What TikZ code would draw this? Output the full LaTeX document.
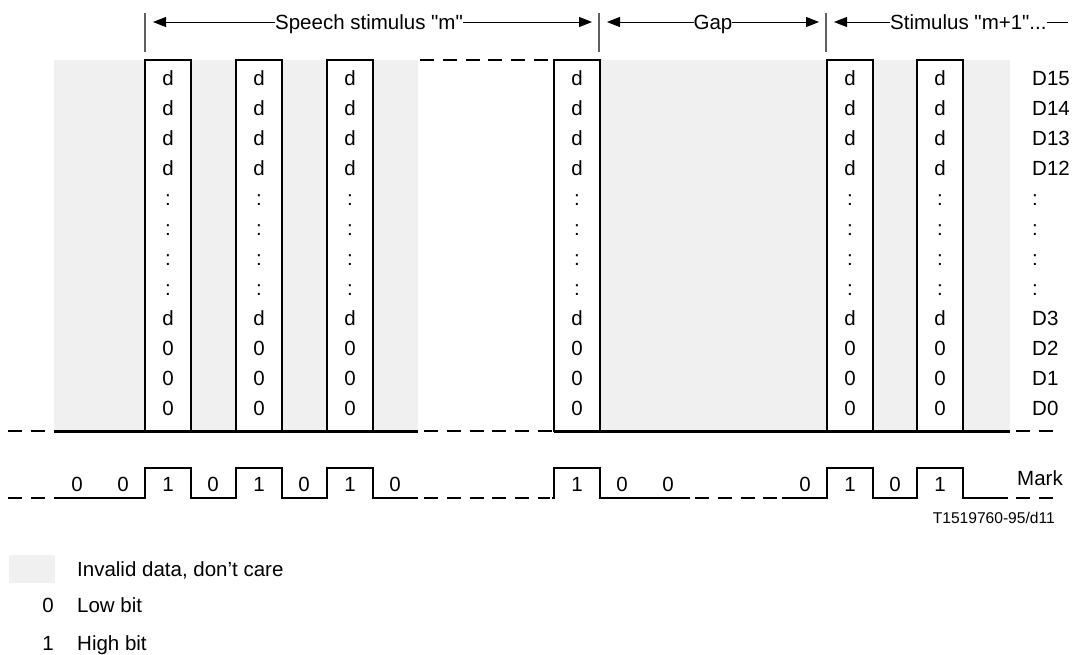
\documentclass[tikz,border=0pt]{standalone}
\usepackage{fontspec}
\setmainfont{Liberation Sans}[Ligatures=TeXOff]
\usetikzlibrary{arrows.meta}
\definecolor{invalid}{HTML}{F0F0F0}
\definecolor{tickgray}{HTML}{606060}
\begin{document}
\begin{tikzpicture}[x=1pt,y=-1pt,
  every node/.style={inner sep=0pt, font=\fontsize{20.5}{24}\selectfont},
  boxline/.style={draw=black, line width=2pt, fill=white},
  baseline3/.style={line width=3pt},
  dashline/.style={line width=1.6pt, dash pattern=on 14pt off 8.8pt},
  wave/.style={line width=2.5pt, line join=miter},
  tickline/.style={draw=tickgray, line width=1.2pt},
  arr/.style={line width=1pt, {Triangle[length=13pt,width=10pt]}-{Triangle[length=13pt,width=10pt]}},
  arrl/.style={line width=1pt, {Triangle[length=13pt,width=10pt]}-},
  lbl/.style={fill=white, anchor=base}
]
\useasboundingbox (0,0) rectangle (1081,654);

% invalid-data background
\fill[invalid] (54,60) rectangle (418,431);
\fill[invalid] (600,60) rectangle (1010,431);

% data boxes
\foreach \a/\b in {145/191, 236/282, 327/373, 554/600, 827/873, 917/963} {
  \draw[boxline] (\a,60) rectangle (\b,431);
}

% box contents
\foreach \c in {168,259,350,577,850,940} {
  \foreach \t [count=\i from 0] in {d,d,d,d,:,:,:,:,d,0,0,0} {
    \node[anchor=base] (c\c-\i) at (\c,85.3+30*\i) {\t};
  }
}

% bit labels on right
\foreach \t [count=\i from 0] in {D15,D14,D13,D12,:,:,:,:,D3,D2,D1,D0} {
  \node[anchor=base west] (bit\i) at (1032,85.3+30*\i) {\t};
}

% bottom lines
\draw[baseline3] (54,431) -- (418,431);
\draw[baseline3] (554,431) -- (1010,431);
\draw[dashline] (8,431) -- (47,431);
\draw[dashline] (424,431) -- (552,431);
\draw[dashline] (1016,431) -- (1055,431);
\draw[dashline] (420,60) -- (550,60);

% mark waveform
\draw[wave] (54,498) -- (145,498) -- (145,468) -- (191,468) -- (191,498) -- (236,498)
  -- (236,468) -- (282,468) -- (282,498) -- (327,498) -- (327,468) -- (373,468)
  -- (373,498) -- (418,498);
\draw[wave] (552,498) -- (554,498) -- (554,468) -- (600,468) -- (600,498) -- (690,498);
\draw[wave] (782,498) -- (827,498) -- (827,468) -- (873,468) -- (873,498) -- (917,498)
  -- (917,468) -- (963,468) -- (963,498) -- (1008,498);
\draw[dashline] (8,498) -- (47,498);
\draw[dashline] (424,498) -- (550,498);
\draw[dashline] (695,498) -- (778,498);
\draw[dashline] (1016,498) -- (1055,498);

% mark labels
\foreach \x/\t in {77/0,123/0,168/1,213/0,259/1,304/0,350/1,395/0,577/1,622/0,668/0,805/0,850/1,895/0,940/1} {
  \node[anchor=base] (m\x) at (\x,491.3) {\t};
}
\node[anchor=base west] (mark) at (1017,485.3) {Mark};
\node[anchor=base east, font=\fontsize{15.6}{18}\selectfont] (ref) at (1055,523.6) {T1519760-95/d11};

% top ticks and arrows
\coordinate (k1t) at (145,13); \coordinate (k1b) at (145,52);
\coordinate (k2t) at (599,13); \coordinate (k2b) at (599,52);
\coordinate (k3t) at (826,13); \coordinate (k3b) at (826,52);
\draw[tickline] (k1t) -- (k1b);
\draw[tickline] (k2t) -- (k2b);
\draw[tickline] (k3t) -- (k3b);

\coordinate (a1l) at (153,22); \coordinate (a1r) at (592,22);
\coordinate (a2l) at (607,22); \coordinate (a2r) at (819,22);
\coordinate (a3l) at (834,22); \coordinate (a3r) at (1068,22);
\draw[arr] (a1l) -- (a1r);
\draw[arr] (a2l) -- (a2r);
\draw[arrl] (a3l) -- (a3r);
\node[lbl] (speech) at (369,29.3) {Speech stimulus "m"};
\node[lbl] (gap) at (713,29.3) {Gap};
\node[lbl, anchor=base west] (next) at (890,29.3) {Stimulus "m+1"...};

% legend
\fill[invalid] (9,555) rectangle (55,583);
\node[anchor=base west] (leg1) at (77,576) {Invalid data, don’t care};
\node[anchor=base] (k0) at (48,612) {0};
\node[anchor=base west] (leg2) at (77,612) {Low bit};
\node[anchor=base] (kone) at (48,650) {1};
\node[anchor=base west] (leg3) at (77,650) {High bit};
\end{tikzpicture}
\end{document}
